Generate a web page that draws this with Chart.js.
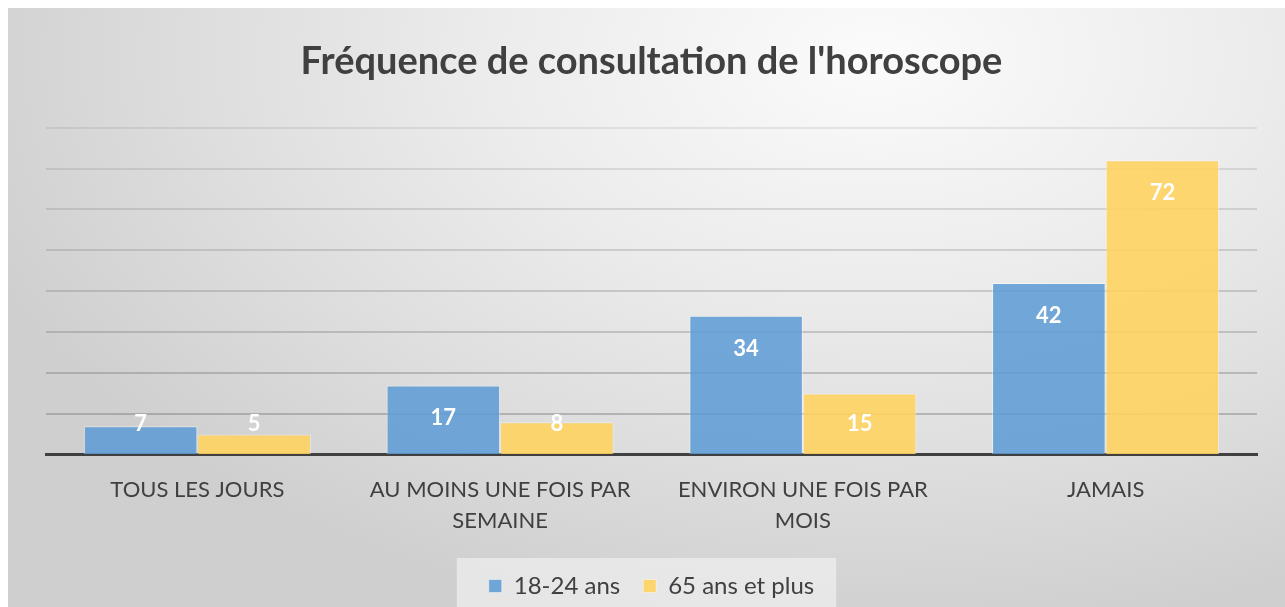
<!DOCTYPE html>
<html>
<head>
<meta charset="utf-8">
<script src="https://cdn.jsdelivr.net/npm/chart.js@4.4.1/dist/chart.umd.min.js"></script>
<style>
  html, body { margin: 0; padding: 0; background: #ffffff; overflow: hidden; width: 1285px; height: 607px; }
  #wrap {
    position: absolute; left: 8px; top: 8px; width: 1277px; height: 610px;
    background: radial-gradient(ellipse 75% 95% at 68% 8%, #fbfbfb 0%, #ececec 40%, #dedede 70%, #cfcfcf 100%);
  }
  canvas { display: block; }
</style>
</head>
<body>
<div id="wrap"><canvas id="c" width="1277" height="610"></canvas></div>
<script>
const categories = [
  'TOUS LES JOURS',
  ['AU MOINS UNE FOIS PAR', 'SEMAINE'],
  ['ENVIRON UNE FOIS PAR', 'MOIS'],
  'JAMAIS'
];
const seriesNames = ['18-24 ans', '65 ans et plus'];
const youngValues = [7, 17, 34, 42];
const seniorValues = [5, 8, 15, 72];
const yTicks = [0, 10, 20, 30, 40, 50, 60, 70, 80];

const FONT = 'Lato, "Open Sans", sans-serif';
const TEXT = '#404040';

const dataLabels = {
  id: 'dataLabels',
  afterDatasetsDraw(chart) {
    const ctx = chart.ctx;
    ctx.save();
    ctx.fillStyle = '#ffffff';
    ctx.font = 'bold 22px ' + FONT;
    ctx.textAlign = 'center';
    ctx.textBaseline = 'middle';
    chart.data.datasets.forEach((ds, i) => {
      const meta = chart.getDatasetMeta(i);
      meta.data.forEach((bar, j) => {
        const y = Math.min(bar.y + 33, bar.base - 30);
        ctx.fillText(String(ds.data[j]), bar.x, y);
      });
    });
    ctx.restore();
  }
};

const legendBg = {
  id: 'legendBg',
  beforeDraw(chart) {
    const lg = chart.legend;
    if (!lg || !lg.legendHitBoxes || !lg.legendHitBoxes.length) return;
    const boxes = lg.legendHitBoxes;
    const left = boxes[0].left - 32;
    const right = boxes[boxes.length - 1].left + boxes[boxes.length - 1].width + 22;
    const ctx = chart.ctx;
    ctx.save();
    ctx.fillStyle = 'rgba(245,245,245,0.6)';
    ctx.fillRect(left, boxes[0].top + boxes[0].height / 2 - 28, right - left, 80);
    ctx.restore();
  }
};

new Chart(document.getElementById('c'), {
  type: 'bar',
  data: {
    labels: categories,
    datasets: [
      {
        label: seriesNames[0],
        data: youngValues,
        backgroundColor: 'rgba(91,155,213,0.85)',
        borderColor: 'rgba(255,255,255,0.45)',
        borderWidth: 1
      },
      {
        label: seriesNames[1],
        data: seniorValues,
        backgroundColor: 'rgba(255,211,95,0.88)',
        borderColor: 'rgba(255,255,255,0.45)',
        borderWidth: 1
      }
    ]
  },
  options: {
    responsive: false,
    animation: false,
    devicePixelRatio: 1,
    layout: { padding: { left: 38, right: 28, top: 0, bottom: 10 } },
    datasets: { bar: { barPercentage: 1.0, categoryPercentage: 0.75 } },
    plugins: {
      title: {
        display: true,
        text: "Fréquence de consultation de l'horoscope",
        color: TEXT,
        font: { family: FONT, size: 38, weight: 'bold', lineHeight: 1.2 },
        padding: { top: 31, bottom: 43 }
      },
      legend: {
        position: 'bottom',
        labels: {
          color: TEXT,
          font: { family: FONT, size: 24 },
          boxWidth: 13,
          boxHeight: 13,
          padding: 23
        }
      },
      tooltip: { enabled: false }
    },
    scales: {
      x: {
        grid: { display: false, drawTicks: false },
        border: { display: true, color: '#404040', width: 3 },
        afterFit(scale) { scale.height -= 4; },
        ticks: {
          color: TEXT,
          font: { family: FONT, size: 22, lineHeight: 1.41 },
          padding: 19,
          maxRotation: 0,
          autoSkip: false
        }
      },
      y: {
        min: yTicks[0],
        max: yTicks[yTicks.length - 1],
        afterBuildTicks(scale) { scale.ticks = yTicks.map(v => ({ value: v })); },
        ticks: { display: false },
        border: { display: false },
        grid: {
          drawTicks: false,
          lineWidth: 2,
          color(ctx) {
            const v = ctx.tick ? ctx.tick.value : 0;
            const a = 0.42 - v * 0.0035;
            return 'rgba(110,110,110,' + a.toFixed(3) + ')';
          }
        }
      }
    }
  },
  plugins: [legendBg, dataLabels]
});
</script>
</body>
</html>
